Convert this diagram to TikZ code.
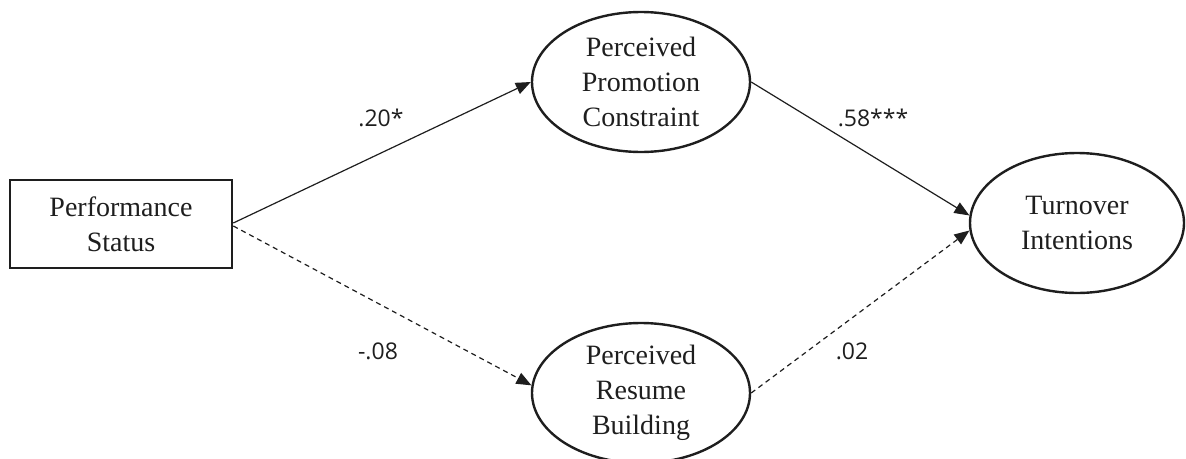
\documentclass[tikz,border=0pt]{standalone}
\usepackage{fontspec}
\setmainfont{Liberation Serif}
\newfontfamily\labelfont{Open Sans}
\usetikzlibrary{shapes.geometric,arrows.meta}
\definecolor{ink}{HTML}{1E1E1E}
\tikzset{
  latent/.style={draw=ink, line width=2.4pt, ellipse, inner sep=0pt,
    minimum width=218pt, minimum height=140pt, align=center,
    font=\fontsize{28}{35}\selectfont, text=ink},
  observed/.style={draw=ink, line width=2.6pt, rectangle, inner sep=0pt,
    minimum width=222pt, minimum height=88pt, align=center,
    font=\fontsize{28}{35}\selectfont, text=ink},
  path/.style={draw=ink, line width=1.2pt, -{Triangle[length=15pt,width=12pt]}},
  nsig/.style={path, dash pattern=on 5pt off 4pt},
  coef/.style={font=\labelfont\fontsize{23}{28}\selectfont, text=ink, inner sep=0pt}
}
\begin{document}
\begin{tikzpicture}[x=1pt,y=-1pt]
\useasboundingbox (0,0) rectangle (1186,458);
\clip (0,0) rectangle (1186,458);
\node[observed] (ps) at (121,224) {Performance\\Status};
\node[latent] (pc) at (641,82) {Perceived\\Promotion\\Constraint};
\node[latent] (rb) at (641,393) {Perceived\\Resume\\Building};
\node[latent, minimum width=214pt] (ti) at (1077,223) {Turnover\\Intentions};
\draw[path] ([yshift=1pt]ps.east) -- (pc.180);
\draw[nsig] ([yshift=-2pt]ps.east) -- (rb.176);
\draw[path] (pc.east) -- (ti.176);
\draw[nsig] (rb.east) -- (ti.184);
\node[coef] (l1) at (381,118) {.20*};
\node[coef] (l2) at (873,118) {.58***};
\node[coef] (l3) at (378,351) {-.08};
\node[coef] (l4) at (852,351) {.02};
\end{tikzpicture}
\end{document}
